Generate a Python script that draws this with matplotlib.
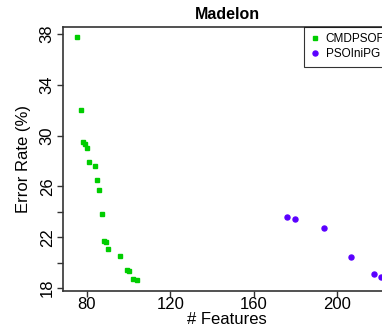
import matplotlib
matplotlib.use("Agg")
import matplotlib.pyplot as plt

plt.rcParams['font.family'] = ['Liberation Sans', 'DejaVu Sans']

cmd_x = [75, 77, 78, 79, 80, 81, 84, 85, 86, 87, 88, 89, 90, 96, 99, 100, 102, 104]
cmd_y = [37.8, 32.0, 29.5, 29.3, 29.0, 27.9, 27.6, 26.5, 25.7, 23.8, 21.7, 21.6, 21.1, 20.5, 19.4, 19.3, 18.7, 18.6]
pso_x = [176, 180, 194, 207, 218, 221]
pso_y = [23.6, 23.4, 22.75, 20.4, 19.1, 18.85]

xticks = [80, 120, 160, 200]
yticks = [18, 20, 22, 24, 26, 30, 34, 38]
ylabels = ['18', '', '22', '', '26', '30', '34', '38']

fig = plt.figure(figsize=(3.82, 3.32), dpi=100)
ax = fig.add_axes([63/382, 1-290.5/332, (391-63)/382, (290.5-27)/332])

ax.plot(cmd_x, cmd_y, linestyle='none', marker='s', markersize=3.0,
        color='#00CD00', label='CMDPSOFS')
ax.plot(pso_x, pso_y, linestyle='none', marker='o', markersize=3.6,
        color='#5A00FF', label='PSOIniPG')

ax.set_xlim(68.5, 226)
ax.set_ylim(17.8, 38.55)
ax.set_xticks(xticks)
ax.set_yticks(yticks)
ax.set_yticklabels(ylabels, rotation=90, va='center')
ax.tick_params(axis='both', labelsize=12, length=4, width=1, color='#333333')
ax.tick_params(axis='y', pad=2)
ax.tick_params(axis='x', pad=1)

for s in ['left', 'bottom', 'top']:
    ax.spines[s].set_color('#333333')
    ax.spines[s].set_linewidth(1.2)
ax.spines['right'].set_visible(False)

ax.set_title('Madelon', fontsize=11.5, fontweight='bold', pad=6)
ax.set_xlabel('# Features', fontsize=12, labelpad=0)
ax.set_ylabel('Error Rate (%)', fontsize=12, labelpad=6)

leg = ax.legend(loc='upper left', bbox_to_anchor=((304-63)/(391-63), 1.0),
                fontsize=8.5, frameon=True, fancybox=False, borderpad=0.55,
                handlelength=0.7, handletextpad=0.6, labelspacing=0.25,
                borderaxespad=0)
leg.get_frame().set_edgecolor('black')
leg.get_frame().set_linewidth(0.8)

fig.savefig('out.png', dpi=100)
